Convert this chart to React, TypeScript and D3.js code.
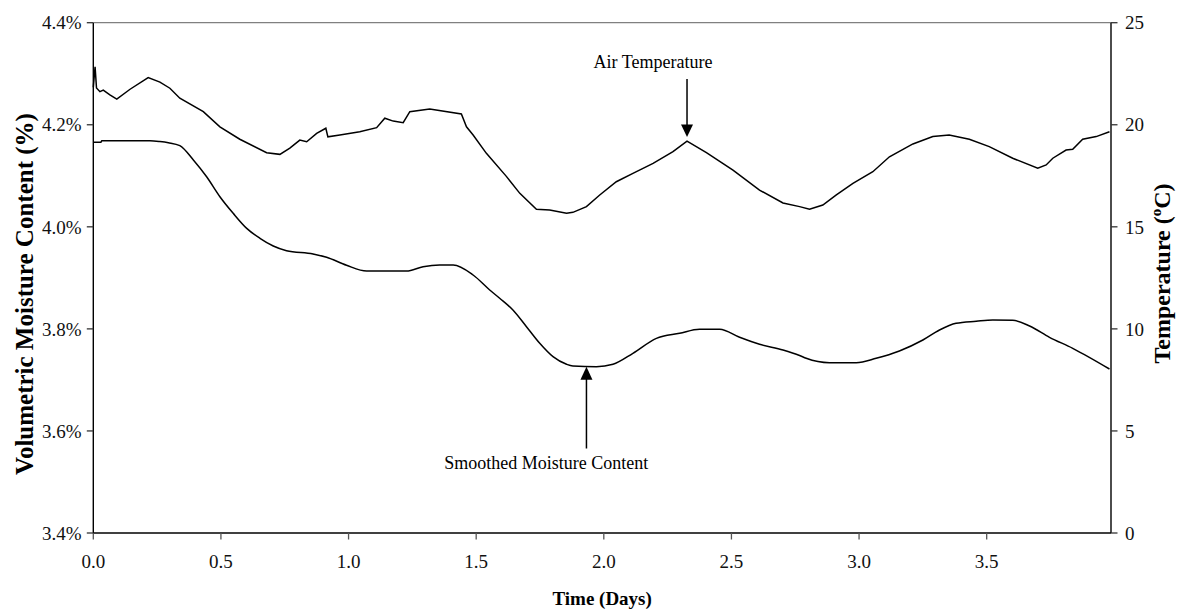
import React from "react";
import * as d3 from "d3";

// Air temperature (°C) vs time (days)
const tempDays = [
  0.0, 0.007, 0.0125, 0.026, 0.039, 0.065, 0.092, 0.144, 0.215, 0.261, 0.3, 0.339,
  0.431, 0.496, 0.574, 0.679, 0.731, 0.77, 0.809, 0.836, 0.875, 0.911, 0.919, 0.966,
  1.044, 1.11, 1.142, 1.175, 1.214, 1.24, 1.318, 1.442, 1.462, 1.488, 1.54, 1.619,
  1.671, 1.736, 1.788, 1.854, 1.879, 1.932, 1.984, 2.049, 2.114, 2.193, 2.271, 2.326,
  2.402, 2.506, 2.61, 2.702, 2.767, 2.806, 2.858, 2.911, 2.976, 3.054, 3.119, 3.211,
  3.289, 3.353, 3.432, 3.51, 3.602, 3.7, 3.733, 3.759, 3.811, 3.837, 3.876, 3.929, 3.981,
];
const tempValues = [
  21.83, 22.84, 21.8, 21.62, 21.7, 21.46, 21.26, 21.74, 22.31, 22.09, 21.79, 21.3,
  20.64, 19.9, 19.29, 18.63, 18.55, 18.86, 19.25, 19.17, 19.58, 19.83, 19.41, 19.5,
  19.66, 19.86, 20.32, 20.18, 20.1, 20.64, 20.77, 20.53, 19.9, 19.5, 18.6, 17.46,
  16.64, 15.86, 15.82, 15.66, 15.71, 15.99, 16.56, 17.21, 17.62, 18.11, 18.68, 19.2,
  18.63, 17.78, 16.8, 16.17, 15.99, 15.86, 16.07, 16.56, 17.13, 17.7, 18.43, 19.06,
  19.42, 19.5, 19.29, 18.93, 18.36, 17.87, 18.03, 18.36, 18.76, 18.8, 19.29, 19.42, 19.66,
];

// Smoothed volumetric moisture content (%) vs time (days)
const moistDays = [
  0.0, 0.03, 0.033, 0.222, 0.261, 0.294, 0.339, 0.392, 0.444, 0.496, 0.548, 0.601,
  0.653, 0.705, 0.757, 0.861, 0.914, 0.992, 1.071, 1.227, 1.292, 1.357, 1.41, 1.488,
  1.553, 1.592, 1.644, 1.697, 1.749, 1.801, 1.854, 1.879, 1.971, 2.036, 2.114, 2.206,
  2.297, 2.375, 2.454, 2.532, 2.61, 2.702, 2.767, 2.793, 2.884, 2.989, 3.067, 3.158,
  3.25, 3.315, 3.38, 3.459, 3.524, 3.602, 3.668, 3.746, 3.837, 3.981,
];
const moistValues = [
  4.1656, 4.1656, 4.1688, 4.1688, 4.1672, 4.1648, 4.159, 4.131, 4.098, 4.059, 4.0265, 3.997,
  3.9775, 3.9624, 3.9532, 3.9467, 3.9403, 3.9246, 3.9134, 3.9134, 3.9219, 3.9252, 3.9252, 3.9056,
  3.8762, 3.86, 3.837, 3.8043, 3.7717, 3.7455, 3.7306, 3.7273, 3.7259, 3.7306, 3.7521, 3.7815,
  3.7913, 3.7992, 3.7992, 3.7835, 3.7698, 3.7586, 3.7478, 3.7423, 3.7337, 3.7337, 3.7423, 3.7567,
  3.7782, 3.7978, 3.8109, 3.8149, 3.8174, 3.8168, 3.8056, 3.7835, 3.7619, 3.7214,
];

const xTicks = [0, 0.5, 1.0, 1.5, 2.0, 2.5, 3.0, 3.5];
const leftTicks = [3.4, 3.6, 3.8, 4.0, 4.2, 4.4];
const rightTicks = [0, 5, 10, 15, 20, 25];

// Annotation anchors (day, value on its own axis)
const airLabel = { text: "Air Temperature", day: 2.326, value: 19.2 };
const moistLabel = { text: "Smoothed Moisture Content", day: 1.932, value: 3.7259 };

const W = 1177;
const H = 611;
const M = { left: 93.3, right: 1111, top: 22.7, bottom: 533 };
const FONT = "'Liberation Serif', 'Times New Roman', serif";

export default function App() {
  const x = d3.scaleLinear().domain([0, 3.987]).range([M.left, M.right]);
  const yL = d3.scaleLinear().domain([3.4, 4.4]).range([M.bottom, M.top]);
  const yR = d3.scaleLinear().domain([0, 25]).range([M.bottom, M.top]);

  const tempLine = d3
    .line<number>()
    .x((_, i) => x(tempDays[i]))
    .y((v) => yR(v));
  const moistLine = d3
    .line<number>()
    .x((_, i) => x(moistDays[i]))
    .y((v) => yL(v))
    .curve(d3.curveMonotoneX);

  const ax = x(airLabel.day);
  const aTip = yR(airLabel.value) - 4;
  const mx = x(moistLabel.day);
  const mTip = yL(moistLabel.value);

  return (
    <svg
      width={W}
      height={H}
      style={{ position: "absolute", left: 0, top: 0, background: "#fff" }}
      fontFamily={FONT}
    >
      {/* top frame */}
      <line x1={M.left} x2={M.right} y1={M.top} y2={M.top} stroke="#808080" strokeWidth={1.3} />

      {/* series */}
      <path d={tempLine(tempValues) ?? ""} fill="none" stroke="#000" strokeWidth={1.5} />
      <path d={moistLine(moistValues) ?? ""} fill="none" stroke="#000" strokeWidth={1.5} />

      {/* axes */}
      <line x1={M.left} x2={M.left} y1={M.top} y2={M.bottom} stroke="#000" strokeWidth={1.4} />
      <line x1={M.right} x2={M.right} y1={M.top} y2={M.bottom} stroke="#000" strokeWidth={1.4} />
      <line x1={M.left} x2={M.right} y1={M.bottom} y2={M.bottom} stroke="#000" strokeWidth={1.4} />

      {xTicks.map((t) => (
        <g key={"x" + t}>
          <line x1={x(t)} x2={x(t)} y1={M.bottom} y2={M.bottom + 6.5} stroke="#555" strokeWidth={1.3} />
          <text x={x(t)} y={568} textAnchor="middle" fontSize={19} fill="#111">
            {t.toFixed(1)}
          </text>
        </g>
      ))}
      {leftTicks.map((t) => (
        <g key={"l" + t}>
          <line x1={M.left - 6.5} x2={M.left} y1={yL(t)} y2={yL(t)} stroke="#333" strokeWidth={1.3} />
          <text x={81.5} y={yL(t) + 6.7} textAnchor="end" fontSize={19} fill="#111">
            {t.toFixed(1) + "%"}
          </text>
        </g>
      ))}
      {rightTicks.map((t) => (
        <g key={"r" + t}>
          <line x1={M.right} x2={M.right + 6.5} y1={yR(t)} y2={yR(t)} stroke="#333" strokeWidth={1.3} />
          <text x={1125} y={yR(t) + 6.7} textAnchor="start" fontSize={19} fill="#111">
            {t}
          </text>
        </g>
      ))}

      {/* axis titles */}
      <text x={(M.left + M.right) / 2} y={605} textAnchor="middle" fontSize={19} fontWeight="bold" fill="#000">
        Time (Days)
      </text>
      <text
        transform="translate(33,294) rotate(-90)"
        textAnchor="middle"
        fontSize={25}
        fontWeight="bold"
        fill="#000"
      >
        Volumetric Moisture Content (%)
      </text>
      <text
        transform="translate(1170,273.5) rotate(-90)"
        textAnchor="middle"
        fontSize={24}
        fontWeight="bold"
        fill="#000"
      >
        Temperature (<tspan dy={-9} fontSize={15}>o</tspan>
        <tspan dy={9}>C)</tspan>
      </text>

      {/* annotations */}
      <text x={653} y={68.3} textAnchor="middle" fontSize={18} fill="#000">
        {airLabel.text}
      </text>
      <line x1={ax} x2={ax} y1={79} y2={aTip - 10} stroke="#000" strokeWidth={1.5} />
      <path d={`M${ax - 6},${aTip - 12.5} L${ax + 6},${aTip - 12.5} L${ax},${aTip} Z`} fill="#000" />

      <line x1={mx} x2={mx} y1={mTip + 10} y2={448.5} stroke="#000" strokeWidth={1.5} />
      <path d={`M${mx - 6},${mTip + 13} L${mx + 6},${mTip + 13} L${mx},${mTip} Z`} fill="#000" />
      <text x={546.3} y={469} textAnchor="middle" fontSize={18} fill="#000">
        {moistLabel.text}
      </text>
    </svg>
  );
}
